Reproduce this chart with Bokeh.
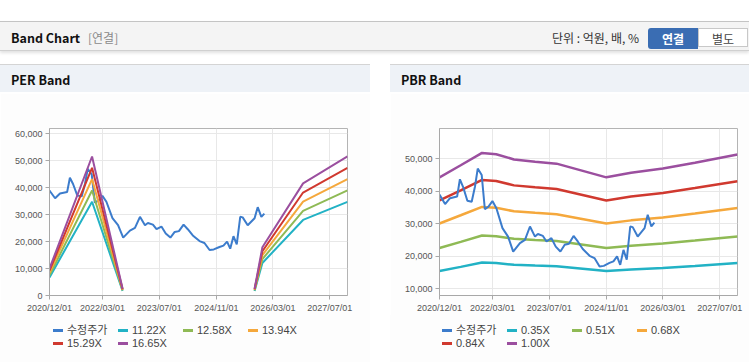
import pandas as pd
from bokeh.plotting import figure
from bokeh.models import (Range1d, FixedTicker, DatetimeTickFormatter, NumeralTickFormatter,
                          Label, Div, Spacer)
from bokeh.layouts import column, row
from bokeh.embed import file_html
from bokeh.resources import INLINE

# ---------------- data ----------------
price_dates = ["2020-12-01", "2020-12-07", "2021-01-18", "2021-03-01", "2021-05-01", "2021-05-25",
               "2021-06-21", "2021-07-28", "2021-09-03", "2021-10-01", "2021-10-25", "2021-11-28",
               "2021-12-25", "2022-01-25", "2022-02-28", "2022-04-03", "2022-05-25", "2022-07-12",
               "2022-08-25", "2022-10-22", "2022-12-04", "2023-01-16", "2023-02-28", "2023-03-25",
               "2023-05-07", "2023-06-07", "2023-07-19", "2023-08-25", "2023-10-04", "2023-11-10",
               "2023-12-16", "2024-01-25", "2024-03-01", "2024-04-13", "2024-06-10", "2024-07-22",
               "2024-09-04", "2024-10-10", "2024-11-28", "2025-01-01", "2025-02-01", "2025-02-28",
               "2025-03-28", "2025-04-25", "2025-05-25", "2025-06-15", "2025-07-28", "2025-09-25",
               "2025-10-22", "2025-11-22", "2025-12-18"]
price = [39000, 38600, 36100, 37900, 38400, 43700,
         41400, 37100, 36800, 41400, 47000, 45000,
         34500, 35300, 37000, 34800, 28700, 26100,
         21500, 24100, 25100, 29200, 26100, 26900,
         26300, 24600, 25600, 23000, 21500, 23600,
         23900, 26300, 24600, 22300, 20200, 19500,
         16900, 17100, 18000, 18500, 20000, 17400,
         22000, 19000, 29200, 29000, 26100, 28700,
         32800, 29200, 30400]

per_dates = ["2020-12-01", "2021-12-01", "2022-08-20", "2024-01-01",
             "2025-09-25", "2025-12-01", "2026-11-15", "2027-12-01"]
NaN = float("nan")
per_11_22 = [6700, 34800, 1700, NaN, 1700, 12060, 28050, 34780]
per_12_58 = [7500, 39000, 1900, NaN, 1900, 13520, 31450, 39000]
per_13_94 = [8400, 43200, 2100, NaN, 2100, 14990, 34850, 43210]
per_15_29 = [9200, 47400, 2300, NaN, 2300, 16440, 38230, 47400]
per_16_65 = [10000, 51600, 2500, NaN, 2500, 17900, 41630, 51620]
per_labels = ["11.22X", "12.58X", "13.94X", "15.29X", "16.65X"]

pbr_dates = ["2020-12-01", "2021-06-01", "2021-12-01", "2022-04-01", "2022-09-01", "2023-03-01",
             "2023-09-01", "2024-11-01", "2025-06-01", "2026-03-01", "2026-12-01", "2027-12-01"]
pbr_0_35 = [15510, 16800, 18130, 17990, 17430, 17190, 16980, 15510, 16000, 16450, 17080, 17960]
pbr_0_51 = [22590, 24480, 26420, 26210, 25400, 25040, 24740, 22590, 23310, 23970, 24890, 26160]
pbr_0_68 = [30120, 32640, 35220, 34950, 33860, 33390, 32980, 30120, 31080, 31960, 33180, 34880]
pbr_0_84 = [37210, 40320, 43510, 43180, 41830, 41240, 40740, 37210, 38390, 39480, 40990, 43090]
pbr_1_00 = [44300, 48000, 51800, 51400, 49800, 49100, 48500, 44300, 45700, 47000, 48800, 51300]
pbr_labels = ["0.35X", "0.51X", "0.68X", "0.84X", "1.00X"]

x_tick_labels = ["2020/12/01", "2022/03/01", "2023/07/01", "2024/11/01", "2026/03/01", "2027/07/01"]
per_yticks = [0, 10000, 20000, 30000, 40000, 50000, 60000]
pbr_yticks = [10000, 20000, 30000, 40000, 50000]
price_label = "수정주가"

colors = ["#3c7ccc", "#22b2c5", "#8fba55", "#f5a83c", "#d0392f", "#9b4f9f"]

# ---------------- helpers ----------------
LATIN = "Liberation Sans, Noto Sans CJK KR"
KFONT = "'Noto Sans CJK KR', sans-serif"
PANEL_BG = "#fdfdfd"

def ts(s):
    return pd.Timestamp(s)

x_start = ts("2020-12-01")
x_end = ts("2027-12-01")
xticks = [ts(t.replace("/", "-")).value // 10**6 for t in x_tick_labels]


def make_fig(width, right, yr, yticks):
    p = figure(width=width, height=222, x_axis_type="datetime",
               x_range=Range1d(x_start, x_end), y_range=Range1d(*yr),
               output_backend="svg", toolbar_location=None,
               min_border_left=49, min_border_right=right, min_border_top=35, min_border_bottom=20)
    p.background_fill_color = "white"
    p.border_fill_color = PANEL_BG
    p.outline_line_color = "#b4b4b4"
    p.xaxis.ticker = FixedTicker(ticks=xticks)
    fmt = "%Y/%m/%d"
    p.xaxis.formatter = DatetimeTickFormatter(milliseconds=fmt, seconds=fmt, minsec=fmt, minutes=fmt,
                                              hourmin=fmt, hours=fmt, days=fmt, months=fmt, years=fmt)
    p.yaxis.ticker = FixedTicker(ticks=yticks)
    p.yaxis.formatter = NumeralTickFormatter(format="0,0")
    for ax in (p.xaxis[0], p.yaxis[0]):
        ax.axis_line_color = "#a8a8a8"
        ax.major_tick_line_color = "#a8a8a8"
        ax.major_tick_out = 4
        ax.major_tick_in = 0
        ax.minor_tick_line_color = None
        ax.major_label_text_font = LATIN
        ax.major_label_text_font_size = "9px"
        ax.major_label_text_color = "#555555"
        ax.major_label_standoff = 3
    p.grid.grid_line_color = "#e8e8e8"
    p.xgrid.ticker = FixedTicker(ticks=xticks)
    p.ygrid.ticker = FixedTicker(ticks=yticks)
    p.add_layout(Label(x=-17, y=177, x_units="screen", y_units="screen", text="(원)",
                       text_font="Noto Sans CJK KR", text_font_size="11px", text_color="#666666",
                       text_baseline="middle"))
    return p


def legend_div(width, labels, x0):
    """HTML legend strip: 4 items per row, 65px column pitch, 13px row pitch."""
    parts = []
    for i, (lab, c) in enumerate(zip(labels, colors)):
        cx = x0 + 65 * (i % 4)
        cy = 15 + 13 * (i // 4)
        parts.append(f'<span style="position:absolute;left:{cx}px;top:{cy - 1}px;width:10px;height:3px;'
                     f'background:{c};"></span>')
        parts.append(f'<span style="position:absolute;left:{cx + 14}px;top:{cy - 7}px;line-height:14px;'
                     f'font-size:11px;color:#444;white-space:nowrap;">{lab}</span>')
    return Div(width=width, height=47, margin=0, text=(
        f'<div style="position:relative;width:{width}px;height:47px;background:{PANEL_BG};'
        f"font-family:'Liberation Sans','Noto Sans CJK KR',sans-serif;\">" + "".join(parts) + "</div>"))


# ---------------- PER ----------------
p1 = make_fig(370, 23, (0, 62000), per_yticks)
pd_x = [ts(d) for d in per_dates]
p1.line([ts(d) for d in price_dates], price, line_color=colors[0], line_width=2)
for c, ys in zip(colors[1:], [per_11_22, per_12_58, per_13_94, per_15_29, per_16_65]):
    p1.line(pd_x, ys, line_color=c, line_width=2)
l1 = legend_div(370, [price_label] + per_labels, 53)

# ---------------- PBR ----------------
p2 = make_fig(359, 12, (8000, 59300), pbr_yticks)
pb_x = [ts(d) for d in pbr_dates]
for c, ys in zip(colors[1:], [pbr_0_35, pbr_0_51, pbr_0_68, pbr_0_84, pbr_1_00]):
    p2.line(pb_x, ys, line_color=c, line_width=2.5)
p2.line([ts(d) for d in price_dates], price, line_color=colors[0], line_width=2)
l2 = legend_div(359, [price_label] + pbr_labels, 52)

# ---------------- page chrome ----------------
header = Div(width=749, height=64, margin=0, text=f"""
<div style="position:relative;width:749px;height:64px;font-family:{KFONT};">
 <div style="position:absolute;left:0;top:21px;width:749px;height:30px;background:#f4f4f4;
      border-top:1px solid #c4c4c4;border-bottom:1px solid #d0d0d0;box-shadow:0 2px 3px rgba(0,0,0,0.12);"></div>
 <span style="position:absolute;left:11px;top:28px;line-height:20px;font-weight:bold;font-size:12.5px;color:#111;">Band Chart</span>
 <span style="position:absolute;left:88px;top:28px;line-height:20px;font-size:12px;color:#8a8a8a;">[연결]</span>
 <span style="position:absolute;left:552px;top:28px;line-height:20px;font-size:12px;color:#333;">단위 : 억원, 배, %</span>
 <div style="position:absolute;left:648px;top:28px;width:50px;height:21px;background:#3a6db3;border-radius:3px 0 0 3px;
      color:#fff;font-weight:bold;font-size:12px;line-height:21px;text-align:center;">연결</div>
 <div style="position:absolute;left:698px;top:28px;width:50px;height:19px;background:#fff;border:1px solid #c8c8c8;
      color:#444;font-size:12px;line-height:19px;text-align:center;">별도</div>
</div>""")


def title_div(txt, w):
    return Div(width=w, height=29, margin=0, text=f"""
<div style="position:relative;width:{w}px;height:28px;border-top:1px solid #d4d4d4;background:#eef2f7;font-family:{KFONT};">
 <span style="position:absolute;left:11px;top:5px;line-height:20px;font-weight:bold;font-size:12.5px;color:#111;">{txt}</span>
</div>""")


def bottom_div(w):
    return Div(width=w, height=2, margin=0,
               text=f'<div style="width:{w}px;height:2px;background:{PANEL_BG};border-top:1px solid #d0d0d0;"></div>')


left = column(title_div("PER Band", 370), p1, l1, bottom_div(370), spacing=0)
right = column(title_div("PBR Band", 359), p2, l2, bottom_div(359), spacing=0)
root = column(header, row(left, Spacer(width=20, height=300, margin=0), right, spacing=0), spacing=0)

open("out.html", "w").write(file_html(root, INLINE))
